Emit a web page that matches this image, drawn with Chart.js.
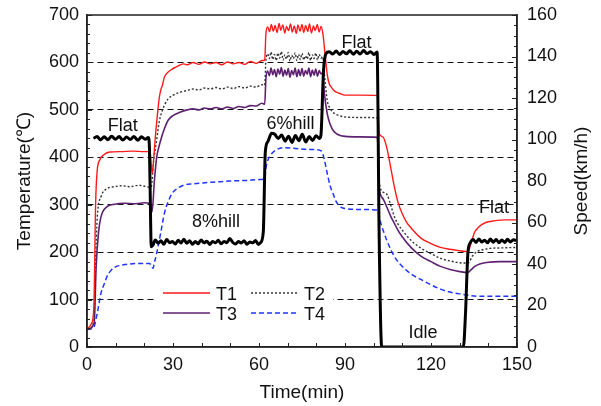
<!DOCTYPE html>
<html>
<head>
<meta charset="utf-8">
<script src="https://cdn.jsdelivr.net/npm/chart.js@4.4.0/dist/chart.umd.min.js"></script>
<style>
  html, body { margin: 0; padding: 0; background: #fff; }
  #wrap { width: 601px; height: 406px; position: relative; }
</style>
</head>
<body>
<div id="wrap"><canvas id="myChart"></canvas></div>
<script>
// exhaust temperatures (°C) and vehicle speed (km/h) against time (min), as [time, value]
var t1 = [[0,37],[1.6,50],[2.4,85],[3,300],[3.5,368],[4.5,395],[6,406],[8,411],[12,412],[16,413],[20,412],[22,412],[22.4,385],[22.8,366],[23.3,400],[23.8,440],[24.6,492],[25.2,525],[25.7,541],[26.3,552],[27,569],[28,578],[29.7,586],[31,590],[33.7,597],[35,595],[37,600],[39,596],[41,601],[43,597],[45,600],[47,595],[49,601],[51,597],[53,600],[55,596],[57,602],[59,598],[61,604],[62,605],
  [62.4,660],[63,675],[63.7,665],[64.3,680],[65,666],[65.6,678],[66.3,663],[67,682],[67.6,668],[68.3,679],[69,662],[69.6,676],[70.3,667],[71,681],[71.6,664],[72.3,677],[73,661],[73.6,679],[74.3,666],[75,680],[75.6,663],[76.3,678],[77,665],[77.6,681],[78.3,662],[79,677],[79.6,667],[80.3,680],[81,664],[81.6,676],[82.3,660],
  [83,620],[83.8,575],[84.5,555],[85.2,548],[86.5,539],[88,535],[90,531],[95,531],[101.3,530],[101.9,450],[103.2,443],[104.5,422],[105.9,380],[107.2,338],[108.5,305],[109.9,282],[111.5,263],[113.2,250],[116.6,229],[120,218],[123.3,210],[126.5,206],[130,203],[132.9,201],[134,220],[135.3,243],[136.5,252],[138,259],[140,264],[142,266],[146,268],[150,268]];

var t2 = [[0,37],[2.4,55],[2.9,170],[3.6,275],[4.9,317],[7,334],[9.6,338],[12,340],[15,338],[18,341],[20,339],[22,337],[22.5,340],[23.2,390],[24.3,436],[25.2,475],[26.3,499],[27.2,512],[28.3,523],[30,531],[32.4,537],[35,541],[37,544],[39,542],[41,546],[43,544],[45,547],[47,544],[49,548],[51,545],[53,549],[55,546],[57,550],[59,548],[61,553],[62,552],
  [62.4,605],[63,618],[63.6,608],[64.2,622],[64.8,606],[65.4,617],[66,604],[66.6,620],[67.2,609],[67.8,623],[68.4,605],[69,616],[69.6,607],[70.2,621],[70.8,603],[71.4,615],[72,608],[72.6,620],[73.2,604],[73.8,617],[74.4,606],[75,619],[75.6,605],[76.2,614],[76.8,607],[77.4,621],[78,604],[78.6,616],[79.2,608],[79.8,620],[80.4,605],[81,617],[81.6,609],[82.2,612],
  [82.8,575],[83.8,520],[84.8,503],[85.8,495],[87.5,489],[90,485],[95,484],[101.3,483],[101.9,352],[103.2,327],[104.8,320],[106,298],[107.2,275],[108.5,259],[109.9,247],[113,225],[116.6,208],[120,197],[123.3,187],[127,181],[131.3,177],[132.9,177],[134.5,192],[136,201],[138,205],[140.6,208],[145,209],[150,210]];

var t3 = [[0,37],[2.5,50],[3.2,170],[4,240],[4.9,275],[7,296],[9.6,301],[13,303],[17,302],[20,304],[22,302],[22.7,285],[23.5,350],[24.3,400],[25,420],[25.7,436],[27,460],[28.3,478],[30,488],[32.4,495],[35,500],[37,502],[39,500],[41,504],[43,502],[45,505],[47,502],[49,506],[51,503],[53,507],[55,505],[57,509],[59,508],[61,514],[62,512],
  [62.4,565],[63,582],[63.6,572],[64.2,588],[64.8,574],[65.4,585],[66,570],[66.6,586],[67.2,575],[67.8,589],[68.4,571],[69,584],[69.6,573],[70.2,587],[70.8,569],[71.4,583],[72,574],[72.6,588],[73.2,570],[73.8,585],[74.4,572],[75,587],[75.6,571],[76.2,583],[76.8,575],[77.4,588],[78,570],[78.6,584],[79.2,573],[79.8,586],[80.4,571],[81,583],[81.6,576],[82.2,578],
  [82.8,535],[83.8,492],[84.8,470],[85.8,457],[87.5,448],[90,444],[95,443],[101.3,442],[101.9,338],[103.2,313],[104.8,292],[106,275],[107.2,261],[108.5,246],[109.9,233],[113,210],[116.6,191],[120,180],[123.3,170],[127,163],[130,159],[132.9,157],[134,163],[135.3,170],[137,175],[139.3,178],[144,180],[150,180]];

var t4 = [[0,37],[2.3,41],[3.6,72],[4.9,114],[6,133],[7,149],[8.3,161],[9.6,168],[11.5,172],[13.6,174],[17,176],[21.7,176],[22.5,172],[23,166],[23.6,180],[24.3,198],[25.7,240],[27,282],[28.3,306],[29.7,324],[31.5,334],[33.7,341],[37,344],[40.4,346],[45,348],[49.7,350],[55,351],[60.4,353],[61.8,355],[62.5,380],[63.1,394],[64.2,406],[65.8,415],[68.4,420],[72,419],[76.5,417],[80,416],[81.8,413],[82.8,395],[83.8,366],[84.8,340],[85.8,324],[86.8,308],[87.8,299],[90,292],[95,290],[101.2,289],[102.5,261],[104.5,226],[106,205],[107.2,191],[109,176],[111.2,163],[113.5,152],[116.6,142],[120,131],[123.3,122],[126.5,116],[130,112],[133,109],[136.8,107],[142,107],[150,107]];

var speed = [[2.3,100.5],[3.5,101.5],[4.7,99.8],[6,101.3],[7.3,99.9],[8.6,101.6],[9.9,100.1],[11.2,101.4],[12.5,99.7],[13.8,101.2],[15.1,100],[16.4,101.5],[17.7,99.6],[19,101.3],[20.3,100.1],[21.4,101],[21.8,95],[22.2,60],[22.4,48.3],[23,49],[23.8,51.6],[24.8,50],[25.8,51.2],[26.8,49.5],[27.8,51.8],[28.8,50.3],[29.8,50.8],[30.8,49.6],[31.8,51.5],[32.8,50.1],[33.8,51.9],[34.8,50],[35.8,51.2],[36.8,49.5],[37.8,50.8],[38.8,49.8],[39.8,51.6],[40.8,50.2],[41.8,51],[42.8,49.4],[43.8,50.9],[44.8,50.2],[45.8,51.4],[46.8,49.7],[47.8,50.9],[48.8,50.3],[49.8,52.3],[50.8,50.5],[51.8,49.6],[52.8,50.8],[53.8,50.1],[54.8,51.2],[55.8,49.5],[56.8,50.6],[57.8,50.2],[58.8,51.3],[59.8,49.4],[60.5,50.2],
  [61.5,55.5],[62.2,94],[63.1,99],[64.4,103],[65.5,102.5],[66.7,100.5],[67.9,102.2],[69.1,99.2],[70.3,101.6],[71.5,98.6],[72.7,101.9],[73.9,99.4],[75.1,102.5],[76.3,98.8],[77.5,101.4],[78.7,99.5],[79.9,101.8],[81.1,100.5],[81.6,102],
  [82.5,133],[83.4,141.5],[84.5,142.3],[85.7,141.2],[86.9,142.6],[88.1,141],[89.3,142.4],[90.5,141.3],[91.7,142.8],[92.9,141.1],[94.1,142.5],[95.3,141.2],[96.5,142.9],[97.7,141.4],[98.9,142.3],[100.1,141],[101.2,142.2],[101.9,55],[102.8,0],[131.3,0],
  [132,15],[132.9,45.8],[133.7,50.2],[134.7,51.8],[135.7,50.4],[136.7,52.1],[137.7,50.6],[138.7,51.5],[139.7,50.2],[140.7,52],[141.7,50.5],[142.7,51.8],[143.7,50.3],[144.7,51.6],[145.7,50.4],[146.7,51.9],[147.7,50.6],[148.7,51.7],[150,51.2]];

// phase labels: [text, time, temperature]
var phases = [['Flat',12.5,466],['8%hill',45,264],['6%hill',71,471],['Flat',94,640],['Idle',117.2,30],['Flat',142,294]];

var xTicks = [0, 30, 60, 90, 120, 150];

var FONT = '"Liberation Sans", Arial, sans-serif';
Chart.defaults.font.family = FONT;
Chart.defaults.color = '#111';

function pts(a) { return a.map(function (p) { return {x: p[0], y: p[1]}; }); }

var series = [
  {label: 'T1', data: t1, color: '#ff1a1a', width: 1.4, dash: []},
  {label: 'T2', data: t2, color: '#333333', width: 1.4, dash: [2, 2]},
  {label: 'T3', data: t3, color: '#5e2070', width: 1.6, dash: []},
  {label: 'T4', data: t4, color: '#1f35ff', width: 1.5, dash: [5, 3]}
];

var datasets = [{
  label: 'Speed', data: pts(speed), yAxisID: 'y2', borderColor: '#000', borderWidth: 3,
  pointRadius: 0, order: 0, cubicInterpolationMode: 'monotone'
}];
series.forEach(function (s, i) {
  datasets.push({
    label: s.label, data: pts(s.data), yAxisID: 'y', borderColor: s.color,
    borderWidth: s.width, borderDash: s.dash, pointRadius: 0, order: i + 1,
    cubicInterpolationMode: 'monotone'
  });
});

// frame, inward ticks, legend box, phase labels, right axis title
var decor = {
  id: 'decor',
  afterDatasetsDraw: function (chart) {
    var ctx = chart.ctx, a = chart.chartArea;
    var x = chart.scales.x, y = chart.scales.y, y2 = chart.scales.y2;
    ctx.save();
    ctx.strokeStyle = '#222';
    ctx.lineWidth = 1.5;
    ctx.strokeRect(a.left, a.top, a.right - a.left, a.bottom - a.top);
    ctx.lineWidth = 1;
    ctx.beginPath();
    for (var v = 0; v <= 700; v += 20) {
      var py = Math.round(y.getPixelForValue(v)) + 0.5;
      ctx.moveTo(a.left, py); ctx.lineTo(a.left + (v % 100 === 0 ? 5 : 3), py);
    }
    for (var s = 0; s <= 160; s += 5) {
      var qy = Math.round(y2.getPixelForValue(s)) + 0.5;
      ctx.moveTo(a.right, qy); ctx.lineTo(a.right - (s % 20 === 0 ? 5 : 3), qy);
    }
    for (var t = 0; t <= 150; t += 10) {
      var px = Math.round(x.getPixelForValue(t)) + 0.5;
      ctx.moveTo(px, a.bottom); ctx.lineTo(px, a.bottom - 4);
    }
    ctx.stroke();

    // legend
    ctx.fillStyle = '#fff';
    ctx.fillRect(155, 283, 178, 43);
    ctx.font = '18px ' + FONT;
    ctx.textBaseline = 'middle';
    ctx.textAlign = 'left';
    var spots = [[163, 293], [251, 293], [163, 313], [251, 313]];
    series.forEach(function (s, i) {
      var sx = spots[i][0], sy = spots[i][1];
      ctx.strokeStyle = s.color;
      ctx.lineWidth = s.width;
      ctx.setLineDash(s.dash);
      ctx.beginPath(); ctx.moveTo(sx, sy); ctx.lineTo(sx + 47, sy); ctx.stroke();
      ctx.setLineDash([]);
      ctx.fillStyle = '#111';
      ctx.fillText(s.label, sx + 53, sy + 2);
    });

    // phase labels
    ctx.textAlign = 'center';
    phases.forEach(function (p) {
      ctx.fillText(p[0], x.getPixelForValue(p[1]), y.getPixelForValue(p[2]));
    });

    // right axis title, reading upward
    ctx.translate(582, (a.top + a.bottom) / 2);
    ctx.rotate(-Math.PI / 2);
    ctx.font = '19px ' + FONT;
    ctx.fillText('Speed(km/h)', 0, 0);
    ctx.restore();
  }
};

var ctx = document.getElementById('myChart').getContext('2d');
var myChart = new Chart(ctx, {
  type: 'line',
  data: { datasets: datasets },
  plugins: [decor],
  options: {
    responsive: true,
    maintainAspectRatio: false,
    animation: false,
    layout: { padding: { top: 15 } },
    plugins: { legend: { display: false }, tooltip: { enabled: false } },
    scales: {
      x: {
        type: 'linear', min: 0, max: 150,
        afterFit: function (s) { s.height = 59; },
        afterBuildTicks: function (s) { s.ticks = xTicks.map(function (v) { return {value: v}; }); },
        ticks: { autoSkip: false, maxRotation: 0, padding: 3, font: { size: 18 } },
        grid: { display: true, drawOnChartArea: false, drawTicks: true, tickLength: 4, tickColor: 'rgba(0,0,0,0)' },
        border: { display: true, color: '#222', width: 1.5 },
        title: { display: true, text: 'Time(min)', font: { size: 19 }, padding: { top: 0, bottom: 2 } }
      },
      y: {
        position: 'left', min: 0, max: 700,
        afterFit: function (s) { s.width = 87; },
        ticks: { stepSize: 100, padding: 3, font: { size: 18 } },
        grid: {
          drawTicks: true, tickLength: 5, tickColor: 'rgba(0,0,0,0)', lineWidth: 1,
          color: function (c) { return (c.tick && (c.tick.value === 0 || c.tick.value === 700)) ? 'rgba(0,0,0,0)' : '#111'; }
        },
        border: { display: true, color: '#222', width: 1.5, dash: [6, 4] },
        title: { display: true, text: 'Temperature(℃)', font: { size: 19 }, padding: { top: 13, bottom: 0 } }
      },
      y2: {
        position: 'right', min: 0, max: 160,
        afterFit: function (s) { s.width = 84; },
        ticks: { stepSize: 20, padding: 3, font: { size: 18 } },
        grid: { drawOnChartArea: false, drawTicks: true, tickLength: 7, tickColor: 'rgba(0,0,0,0)' },
        border: { display: true, color: '#222', width: 1.5 }
      }
    }
  }
});
</script>
</body>
</html>
